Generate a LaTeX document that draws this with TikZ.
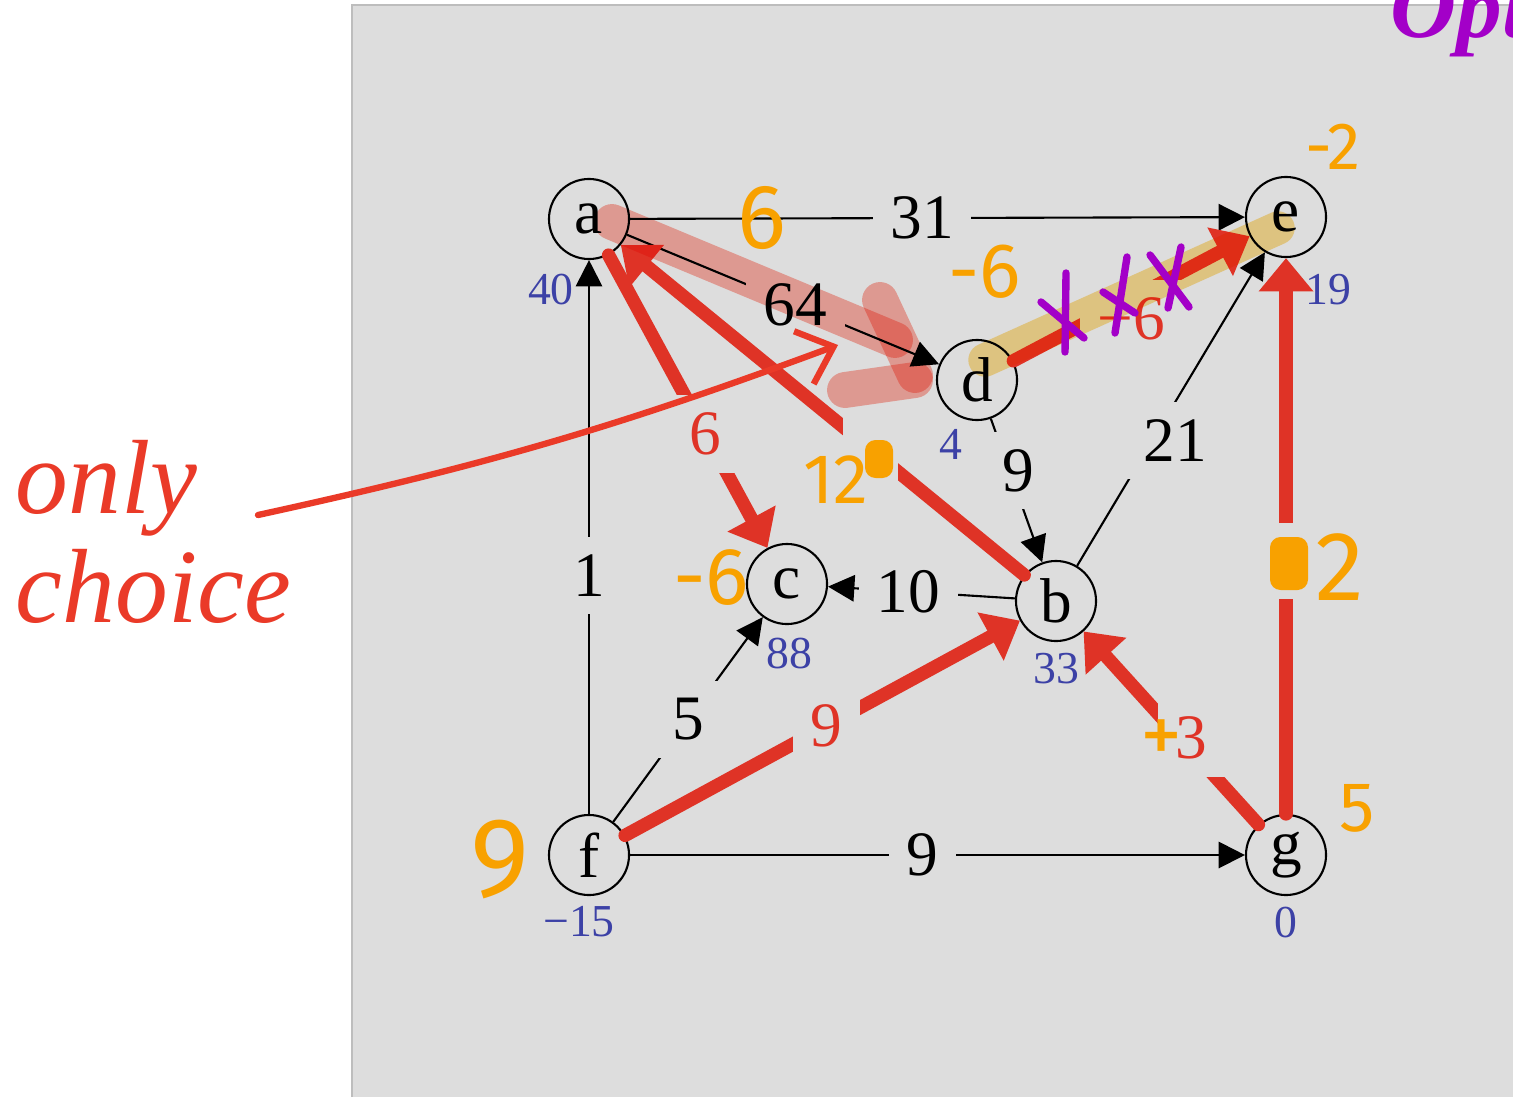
\documentclass[tikz,border=0pt]{standalone}
\usepackage{fontspec}
\setmainfont{Liberation Serif}
\newfontfamily\hand{Fira Sans}
\usetikzlibrary{arrows.meta,positioning}
\definecolor{panel}{HTML}{DDDDDD}
\definecolor{panelrule}{HTML}{BDBDBD}
\definecolor{spt}{HTML}{DF3326}
\definecolor{dist}{HTML}{3C41A6}
\definecolor{penorange}{HTML}{F8A100}
\definecolor{penpurple}{HTML}{A300C8}
\definecolor{penred}{HTML}{EA3A28}
\definecolor{salmon}{HTML}{FFB1A8}
\definecolor{tan}{HTML}{FFE294}

\begin{document}
\begin{tikzpicture}[x=0.01cm,y=-0.01cm,>=Latex,
    scrib/.style={text=penorange,inner sep=0pt,font=\hand\fontsize{#1}{#1}\selectfont}]
  \tikzstyle{vert}=[draw,circle,line width=0.6pt,minimum size=0.8cm,inner sep=0pt,font=\fontsize{18}{18}\selectfont]
  \tikzstyle{dlab}=[text=dist,inner sep=0pt,font=\fontsize{13}{13}\selectfont]
  \tikzstyle{edge}=[line width=0.6pt,-{Triangle[length=7.5pt,width=7.5pt]}]
  \tikzstyle{elab}=[fill=panel,inner sep=5pt,font=\fontsize{18}{18}\selectfont]
  \tikzstyle{tree}=[spt,line width=3.8pt,line cap=round,-{Triangle[length=9.5pt,width=15pt]}]
  \tikzstyle{tlab}=[elab,text=spt]
  \tikzstyle{gap}=[fill=panel,inner sep=0pt,minimum width=0.55cm,minimum height=0.75cm]
  \tikzstyle{marker}=[line width=10.2pt,line cap=round,blend mode=multiply]
  \tikzstyle{cross}=[penpurple,line width=2.1pt,line cap=round]
  \tikzstyle{pen}=[penred,line width=1.8pt,line cap=round,-{Straight Barb[length=9pt,width=16pt]}]
  \useasboundingbox (0,0) rectangle (1513,1097);
  \fill[panel] (352,5) rectangle (1513,1097);
  \draw[panelrule,line width=0.8pt] (352,1097) -- (352,5) -- (1513,5);

  % graph
  \node[vert] (a) at (589,219) {a};
  \node[vert] (e) at (1286,217) {e};
  \node[vert] (d) at (977,380) {d};
  \node[vert] (c) at (787,584) {c};
  \node[vert] (b) at (1056,601) {b};
  \node[vert] (f) at (589,855) {f};
  \node[vert] (g) at (1286,855) {g};

  \node[dlab,below=0.13cm of a,xshift=-0.38cm] (da) {40};
  \node[dlab,below=0.15cm of e,xshift=0.42cm] (de) {19};
  \node[dlab,below=0.08cm of d,xshift=-0.26cm] (dd) {4};
  \node[dlab,below=0.12cm of c,xshift=0.02cm] (dc) {88};
  \node[dlab,below=0.1cm of b] (db) {33};
  \node[dlab,below=0.1cm of f,xshift=-0.1cm] (df) {−15};
  \node[dlab,below=0.1cm of g] (dg) {0};

  \draw[edge] (a) -- node[elab,pos=0.475] {31} (e);
  \draw[edge] (a) -- node[elab,pos=0.54] {64} (d);
  \draw[edge] (f) -- node[elab,pos=0.43] {1} (a);
  \draw[edge] (f) -- node[elab,pos=0.5] {5} (c);
  \draw[edge] (b) -- node[elab,pos=0.57] {10} (c);
  \draw[edge] (d) -- node[elab,pos=0.36,xshift=0.09cm] {9} (b);
  \draw[edge] (b) -- node[elab,pos=0.4,xshift=0.23cm] {21} (e);
  \draw[edge] (f) -- node[elab,pos=0.475] {9} (g);

  % shortest path tree
  \draw[tree] (f) -- node[tlab,pos=0.51] {9} (b);
  \draw[tree] (g) -- node[tlab,pos=0.45,xshift=0.12cm] {3} (b);
  \draw[tree] (g) -- node[gap,pos=0.455] {} (e);
  \draw[tree] (d) -- node[tlab,pos=0.5,yshift=-0.2cm] {−6} (e);
  \draw[tree] (b) -- node[gap,pos=0.38] {} (a);
  \draw[tree] (a) -- node[tlab,pos=0.61] {6} (c);

  % highlighter
  \draw[marker,salmon] (612,222) -- (895,340);
  \draw[marker,salmon] (880,300) -- (915,375);
  \draw[marker,salmon] (845,390) -- (915,380);
  \draw[marker,tan,line width=9.5pt] (985,360) -- (1278,228);

  % orange notes
  \node[scrib=26] (wa) at (762,218) {6};
  \node[scrib=22] (wd) at (985,272) {-6};
  \node[scrib=19] (we) at (1333,147) {-2};
  \node[scrib=20] (wb) at (836,480) {12};
  \fill[penorange,rounded corners=3pt] (865,440) rectangle (893,478);
  \node[scrib=23] (wc) at (711,578) {-6};
  \node[scrib=32] (wf) at (500,860) {9};
  \node[scrib=24] (wp) at (1162,742) {+};
  \node[scrib=20] (wg) at (1357,808) {5};
  \fill[penorange,rounded corners=3pt] (1270,537) rectangle (1308,590);
  \node[scrib=28] (wge) at (1340,567) {2};

  % purple
  \draw[cross] (1066,273) -- (1065,352);
  \draw[cross] (1041,302) -- (1084,338);
  \draw[cross] (1127,257) -- (1115,333);
  \draw[cross] (1103,292) -- (1135,313);
  \draw[cross] (1150,255) -- (1189,307);
  \draw[cross] (1181,247) -- (1168,308);
  \node[text=penpurple,inner sep=0pt,anchor=base west,font=\bfseries\itshape\fontsize{26}{26}\selectfont] (opt) at (1390,38) {Opt};

  % red note
  \node[text=penred,inner sep=0pt,anchor=north west,align=left,font=\itshape\fontsize{30}{31}\selectfont] (note) at (15,440) {only\\choice};
  \coordinate (tail) at (258,515);
  \coordinate (hint) at (838,345);
  \draw[pen] (tail) to[bend right=4] (hint);
\end{tikzpicture}
\end{document}
